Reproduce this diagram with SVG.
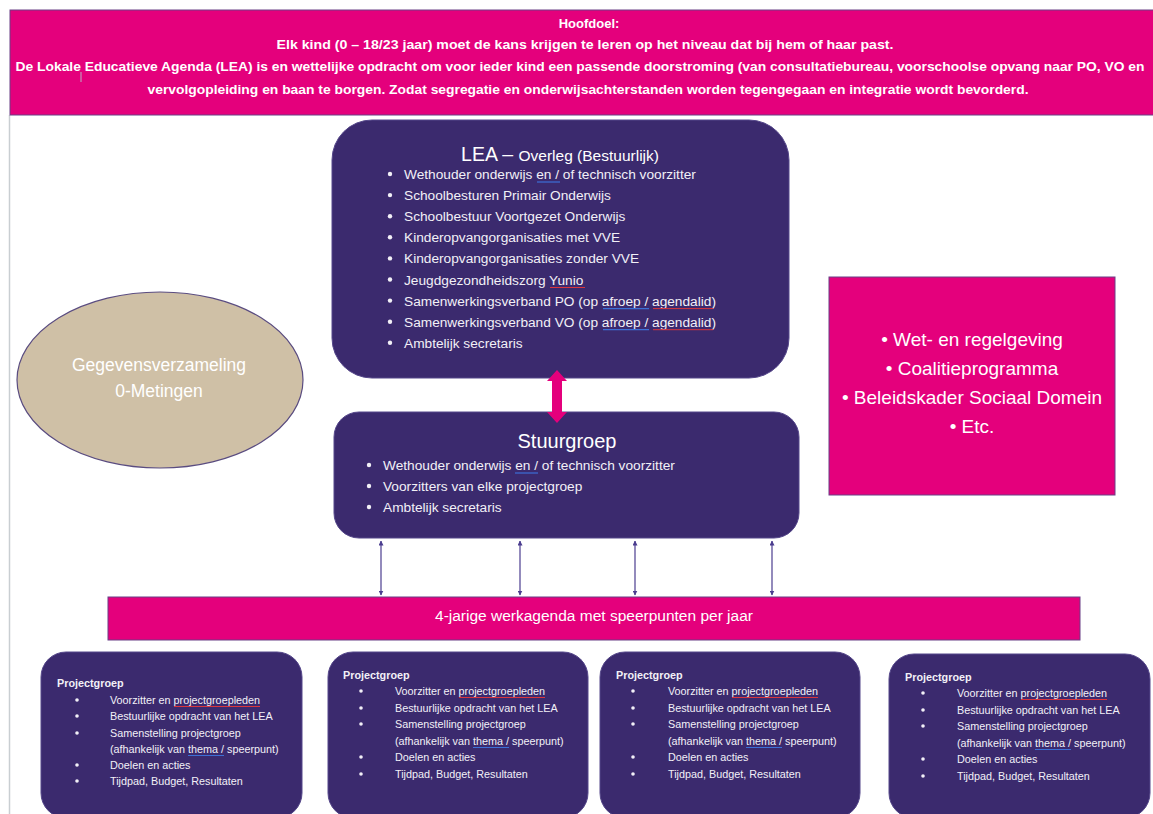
<svg xmlns="http://www.w3.org/2000/svg" width="1153" height="814" viewBox="0 0 1153 814">
<defs>
<style>
.pink{fill:#e4007c;stroke:#6a3f86;stroke-width:1}
.purple{fill:#3b2a6e;stroke:#55478a;stroke-width:1}
.t{font-family:"Liberation Sans",Arial,sans-serif;fill:#ffffff}
.ban{font-size:13px;font-weight:bold;text-anchor:middle}
.li{font-size:13.7px;fill:#f2f0f7}
.pg{font-size:10.8px;fill:#f2f0f7}
.pgh{font-size:10.8px;font-weight:bold;fill:#f2f0f7}
.conn{stroke:#4b3d8f;stroke-width:1.2;fill:none}
.ul-b{stroke:#3d6fd6;stroke-width:1.2}
.ul-r{stroke:#d9363e;stroke-width:1}
</style>
<marker id="ah" viewBox="0 0 10 10" refX="9" refY="5" markerWidth="5" markerHeight="5" orient="auto-start-reverse" markerUnits="userSpaceOnUse">
<path d="M0,0 L10,5 L0,10 Z" fill="#4b3d8f"/>
</marker>
</defs>
<rect width="1153" height="814" fill="#ffffff"/>
<line x1="9.5" y1="115" x2="9.5" y2="814" stroke="#c9ced2" stroke-width="1.5"/>

<g id="hoofdoel">
<rect class="pink" x="10" y="10" width="1150" height="105"/>
<text class="t ban" x="589" y="28">Hoofdoel:</text>
<text class="t ban" x="585" y="49" textLength="617" lengthAdjust="spacingAndGlyphs">Elk kind (0 – 18/23 jaar) moet de kans krijgen te leren op het niveau dat bij hem of haar past.</text>
<text class="t ban" x="580" y="71" textLength="1129" lengthAdjust="spacingAndGlyphs">De Lokale Educatieve Agenda (LEA) is en wettelijke opdracht om voor ieder kind een passende doorstroming (van consultatiebureau, voorschoolse opvang naar PO, VO en</text>
<text class="t ban" x="588" y="94" textLength="881" lengthAdjust="spacingAndGlyphs">vervolgopleiding en baan te borgen. Zodat segregatie en onderwijsachterstanden worden tegengegaan en integratie wordt bevorderd.</text>
<line x1="81" y1="72" x2="81" y2="82" stroke="#b9b0c4" stroke-width="1"/>
</g>

<g id="lea">
<rect class="purple" x="332" y="120" width="457" height="258" rx="40"/>
<text class="t" x="560" y="161" text-anchor="middle"><tspan font-size="19.5">LEA – </tspan><tspan font-size="15.5">Overleg (Bestuurlijk)</tspan></text>
<g fill="#f2f0f7">
<circle cx="390" cy="174" r="2.2"/><circle cx="390" cy="195.1" r="2.2"/><circle cx="390" cy="216.2" r="2.2"/><circle cx="390" cy="237.3" r="2.2"/><circle cx="390" cy="258.4" r="2.2"/><circle cx="390" cy="279.5" r="2.2"/><circle cx="390" cy="300.6" r="2.2"/><circle cx="390" cy="321.7" r="2.2"/><circle cx="390" cy="342.8" r="2.2"/>
</g>
<text class="t li" x="404" y="179">Wethouder onderwijs en / of technisch voorzitter</text>
<text class="t li" x="404" y="200.1">Schoolbesturen Primair Onderwijs</text>
<text class="t li" x="404" y="221.2">Schoolbestuur Voortgezet Onderwijs</text>
<text class="t li" x="404" y="242.3">Kinderopvangorganisaties met VVE</text>
<text class="t li" x="404" y="263.4">Kinderopvangorganisaties zonder VVE</text>
<text class="t li" x="404" y="284.5">Jeugdgezondheidszorg Yunio</text>
<text class="t li" x="404" y="305.6">Samenwerkingsverband PO (op afroep / agendalid)</text>
<text class="t li" x="404" y="326.7">Samenwerkingsverband VO (op afroep / agendalid)</text>
<text class="t li" x="404" y="347.8">Ambtelijk secretaris</text>
<line class="ul-b" x1="537" y1="182" x2="560" y2="182"/>
<line class="ul-r" x1="550" y1="287.5" x2="585" y2="287.5"/>
<line class="ul-b" x1="603" y1="308.6" x2="649" y2="308.6"/>
<line class="ul-r" x1="653" y1="308.6" x2="713" y2="308.6"/>
<line class="ul-b" x1="603" y1="329.7" x2="649" y2="329.7"/>
<line class="ul-r" x1="653" y1="329.7" x2="713" y2="329.7"/>
</g>

<g id="stuurgroep">
<rect class="purple" x="334" y="412" width="465" height="126" rx="25"/>
<text class="t" x="567" y="448" text-anchor="middle" font-size="20">Stuurgroep</text>
<g fill="#f2f0f7">
<circle cx="369" cy="465" r="2.2"/><circle cx="369" cy="486" r="2.2"/><circle cx="369" cy="507" r="2.2"/>
</g>
<text class="t li" x="383" y="470">Wethouder onderwijs en / of technisch voorzitter</text>
<text class="t li" x="383" y="491">Voorzitters van elke projectgroep</text>
<text class="t li" x="383" y="512">Ambtelijk secretaris</text>
<line class="ul-b" x1="515" y1="473" x2="538" y2="473"/>
</g>

<g id="gegevens">
<ellipse cx="160" cy="380" rx="143" ry="88" fill="#cfc0a6" stroke="#5a4c80" stroke-width="1.2"/>
<text class="t" x="159" y="371" text-anchor="middle" font-size="17.5" fill="#f6f3ee">Gegevensverzameling</text>
<text class="t" x="159" y="397" text-anchor="middle" font-size="17.5" fill="#f6f3ee">0-Metingen</text>
</g>

<g id="kaders">
<rect class="pink" x="829" y="277" width="286" height="218"/>
<text class="t" x="972" y="346" text-anchor="middle" font-size="19">• Wet- en regelgeving</text>
<text class="t" x="972" y="375" text-anchor="middle" font-size="19">• Coalitieprogramma</text>
<text class="t" x="972" y="404" text-anchor="middle" font-size="19">• Beleidskader Sociaal Domein</text>
<text class="t" x="972" y="433" text-anchor="middle" font-size="19">• Etc.</text>
</g>

<g id="werkagenda">
<rect class="pink" x="108" y="597" width="972" height="43"/>
<text class="t" x="594" y="621" text-anchor="middle" font-size="15.5">4-jarige werkagenda met speerpunten per jaar</text>
</g>

<g id="projectgroep1">
<rect class="purple" x="41" y="652" width="261" height="166" rx="25"/>
<text class="t pgh" x="57" y="687">Projectgroep</text>
<g fill="#f2f0f7"><circle cx="77" cy="700" r="1.8"/><circle cx="77" cy="716" r="1.8"/><circle cx="77" cy="733" r="1.8"/><circle cx="77" cy="765" r="1.8"/><circle cx="77" cy="781" r="1.8"/></g>
<text class="t pg" x="110" y="704">Voorzitter en projectgroepleden</text>
<text class="t pg" x="110" y="720">Bestuurlijke opdracht van het LEA</text>
<text class="t pg" x="110" y="737">Samenstelling projectgroep</text>
<text class="t pg" x="110" y="753">(afhankelijk van thema / speerpunt)</text>
<text class="t pg" x="110" y="769">Doelen en acties</text>
<text class="t pg" x="110" y="785">Tijdpad, Budget, Resultaten</text>
<line class="ul-r" x1="174" y1="706.5" x2="260" y2="706.5"/>
<line class="ul-b" x1="188" y1="755.5" x2="224" y2="755.5"/>
</g>

<g id="projectgroep2">
<rect class="purple" x="328" y="652" width="260" height="166" rx="25"/>
<text class="t pgh" x="343" y="679">Projectgroep</text>
<g fill="#f2f0f7"><circle cx="361" cy="691" r="1.8"/><circle cx="361" cy="708" r="1.8"/><circle cx="361" cy="724" r="1.8"/><circle cx="361" cy="757" r="1.8"/><circle cx="361" cy="774" r="1.8"/></g>
<text class="t pg" x="395" y="695">Voorzitter en projectgroepleden</text>
<text class="t pg" x="395" y="712">Bestuurlijke opdracht van het LEA</text>
<text class="t pg" x="395" y="728">Samenstelling projectgroep</text>
<text class="t pg" x="395" y="745">(afhankelijk van thema / speerpunt)</text>
<text class="t pg" x="395" y="761">Doelen en acties</text>
<text class="t pg" x="395" y="778">Tijdpad, Budget, Resultaten</text>
<line class="ul-r" x1="459" y1="697.5" x2="545" y2="697.5"/>
<line class="ul-b" x1="473" y1="747.5" x2="509" y2="747.5"/>
</g>

<g id="projectgroep3">
<rect class="purple" x="600" y="652" width="260" height="166" rx="25"/>
<text class="t pgh" x="616" y="679">Projectgroep</text>
<g fill="#f2f0f7"><circle cx="633" cy="691" r="1.8"/><circle cx="633" cy="708" r="1.8"/><circle cx="633" cy="724" r="1.8"/><circle cx="633" cy="757" r="1.8"/><circle cx="633" cy="774" r="1.8"/></g>
<text class="t pg" x="668" y="695">Voorzitter en projectgroepleden</text>
<text class="t pg" x="668" y="712">Bestuurlijke opdracht van het LEA</text>
<text class="t pg" x="668" y="728">Samenstelling projectgroep</text>
<text class="t pg" x="668" y="745">(afhankelijk van thema / speerpunt)</text>
<text class="t pg" x="668" y="761">Doelen en acties</text>
<text class="t pg" x="668" y="778">Tijdpad, Budget, Resultaten</text>
<line class="ul-r" x1="732" y1="697.5" x2="818" y2="697.5"/>
<line class="ul-b" x1="746" y1="747.5" x2="782" y2="747.5"/>
</g>

<g id="projectgroep4">
<rect class="purple" x="889" y="654" width="261" height="164" rx="25"/>
<text class="t pgh" x="905" y="681">Projectgroep</text>
<g fill="#f2f0f7"><circle cx="923" cy="693" r="1.8"/><circle cx="923" cy="710" r="1.8"/><circle cx="923" cy="726" r="1.8"/><circle cx="923" cy="759" r="1.8"/><circle cx="923" cy="776" r="1.8"/></g>
<text class="t pg" x="957" y="697">Voorzitter en projectgroepleden</text>
<text class="t pg" x="957" y="714">Bestuurlijke opdracht van het LEA</text>
<text class="t pg" x="957" y="730">Samenstelling projectgroep</text>
<text class="t pg" x="957" y="747">(afhankelijk van thema / speerpunt)</text>
<text class="t pg" x="957" y="763">Doelen en acties</text>
<text class="t pg" x="957" y="780">Tijdpad, Budget, Resultaten</text>
<line class="ul-r" x1="1021" y1="699.5" x2="1107" y2="699.5"/>
<line class="ul-b" x1="1035" y1="749.5" x2="1071" y2="749.5"/>
</g>

<g id="connectors">
<polygon points="557,370 567,381 562,381 562,412 567,412 557,423 547,412 552,412 552,381 547,381" fill="#e4007c"/>
<line class="conn" x1="381" y1="541" x2="381" y2="595" marker-start="url(#ah)" marker-end="url(#ah)"/>
<line class="conn" x1="520" y1="541" x2="520" y2="595" marker-start="url(#ah)" marker-end="url(#ah)"/>
<line class="conn" x1="635" y1="541" x2="635" y2="595" marker-start="url(#ah)" marker-end="url(#ah)"/>
<line class="conn" x1="772" y1="541" x2="772" y2="595" marker-start="url(#ah)" marker-end="url(#ah)"/>
</g>
</svg>
